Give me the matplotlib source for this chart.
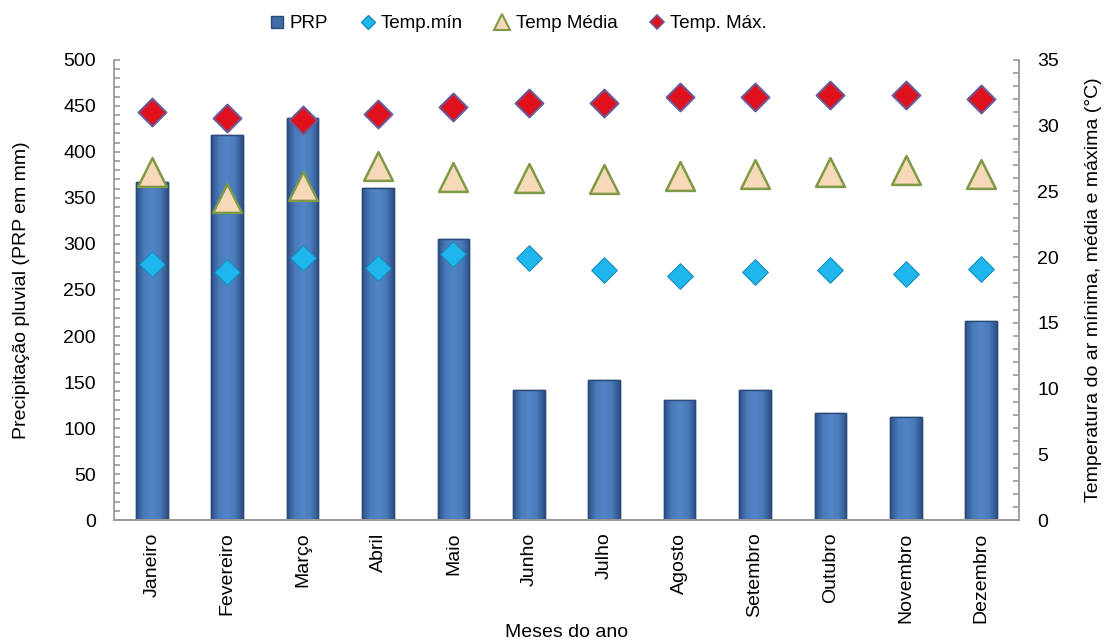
import matplotlib
matplotlib.use("Agg")
import numpy as np
import matplotlib.pyplot as plt
from matplotlib.ticker import MultipleLocator
from matplotlib.lines import Line2D
from matplotlib.colors import LinearSegmentedColormap

plt.rcParams['font.family'] = ['Liberation Sans', 'DejaVu Sans']

meses = ["Janeiro", "Fevereiro", "Março", "Abril", "Maio", "Junho", "Julho",
         "Agosto", "Setembro", "Outubro", "Novembro", "Dezembro"]
prp = [367, 418, 437, 361, 305, 141, 152, 131, 141, 116, 112, 216]
temp_min = [19.5, 18.9, 19.9, 19.2, 20.2, 19.9, 19.0, 18.6, 18.9, 19.0, 18.7, 19.1]
temp_media = [26.5, 24.5, 25.4, 26.9, 26.1, 26.0, 25.9, 26.2, 26.3, 26.5, 26.6, 26.3]
temp_max = [31.0, 30.6, 30.4, 30.9, 31.4, 31.7, 31.7, 32.2, 32.2, 32.3, 32.3, 32.0]

FS = 14
GRAY = "#9A9A9A"

fig = plt.figure(figsize=(11.05, 6.43), dpi=100)
ax = fig.add_axes([0.1032, 0.191, 0.819, 0.716])
ax2 = ax.twinx()

x = np.arange(len(meses))
bars = ax.bar(x, prp, width=0.42, color="#3F6BA8", edgecolor="#2C4A78",
              linewidth=1.0, zorder=2)

# bevelled look: horizontal shading clipped to each bar
shade = LinearSegmentedColormap.from_list(
    "bevel", ["#2E5187", "#4A7BBB", "#5285C6", "#4A7BBB", "#2E5187"])
grad = np.linspace(0, 1, 64).reshape(1, -1)
for rect in bars:
    x0, y0 = rect.get_x(), rect.get_y()
    im = ax.imshow(grad, cmap=shade, aspect="auto", zorder=2.1,
                   extent=(x0, x0 + rect.get_width(), y0, y0 + rect.get_height()))
    im.set_clip_path(rect)
    ax.add_patch(plt.Rectangle((x0, y0), rect.get_width(), rect.get_height(),
                               fill=False, edgecolor="#2C4A78", linewidth=1.0,
                               zorder=2.2))
ax.set_xlim(-0.5, len(meses) - 0.5)
ax.set_ylim(0, 500)

ax.yaxis.set_major_locator(MultipleLocator(50))
ax.yaxis.set_minor_locator(MultipleLocator(10))
ax.set_xticks(x)
ax.set_xticklabels(meses, rotation=90, fontsize=FS)
ax.set_ylabel("Precipitação pluvial (PRP em mm)", fontsize=FS, labelpad=24)
ax.set_xlabel("Meses do ano", fontsize=FS)
ax.xaxis.set_label_coords(0.5, -0.226)

ax2.set_ylim(0, 35)
ax2.yaxis.set_major_locator(MultipleLocator(5))
ax2.yaxis.set_minor_locator(MultipleLocator(1))
ax2.set_ylabel("Temperatura do ar mínima, média e máxima (°C)", fontsize=FS,
               labelpad=19)

ax2.scatter(x, temp_min, marker="D", s=170, color="#1EB6EC", edgecolor="#168DBD",
            linewidth=0.8, zorder=3)
ax2.scatter(x, temp_media, marker="^", s=430, color="#F7D9BA", edgecolor="#7E9A45",
            linewidth=1.8, zorder=3)
ax2.scatter(x, temp_max, marker="D", s=200, color="#DE111C", edgecolor="#6A5A98",
            linewidth=1.5, zorder=3)

for a in (ax, ax2):
    for side in ("left", "right", "bottom"):
        a.spines[side].set_color(GRAY)
        a.spines[side].set_linewidth(1.3)
    a.spines["top"].set_visible(False)
    a.tick_params(axis="y", which="both", colors=GRAY, labelcolor="black",
                  labelsize=FS, direction="in", length=4, width=1.2, pad=13)
ax.tick_params(axis="x", length=0, pad=9, labelsize=FS)
ax2.spines["left"].set_visible(False)
ax.spines["right"].set_visible(False)

handles = [
    Line2D([], [], marker="s", linestyle="none", markersize=8, color="#3F6BA8",
           markeredgecolor="#2C4A78"),
    Line2D([], [], marker="D", linestyle="none", markersize=7, color="#1EB6EC",
           markeredgecolor="#168DBD"),
    Line2D([], [], marker="^", linestyle="none", markersize=12, color="#F7D9BA",
           markeredgecolor="#7E9A45", markeredgewidth=1.5),
    Line2D([], [], marker="D", linestyle="none", markersize=7, color="#DE111C",
           markeredgecolor="#6A5A98", markeredgewidth=1.2),
]
fig.legend(handles, ["PRP", "Temp.mín", "Temp Média", "Temp. Máx."],
           loc="center", bbox_to_anchor=(0.467, 0.963), ncol=4, frameon=False,
           fontsize=13.5, handletextpad=0.1, columnspacing=1.5, handlelength=1.2)

fig.savefig("out.png", dpi=100)
